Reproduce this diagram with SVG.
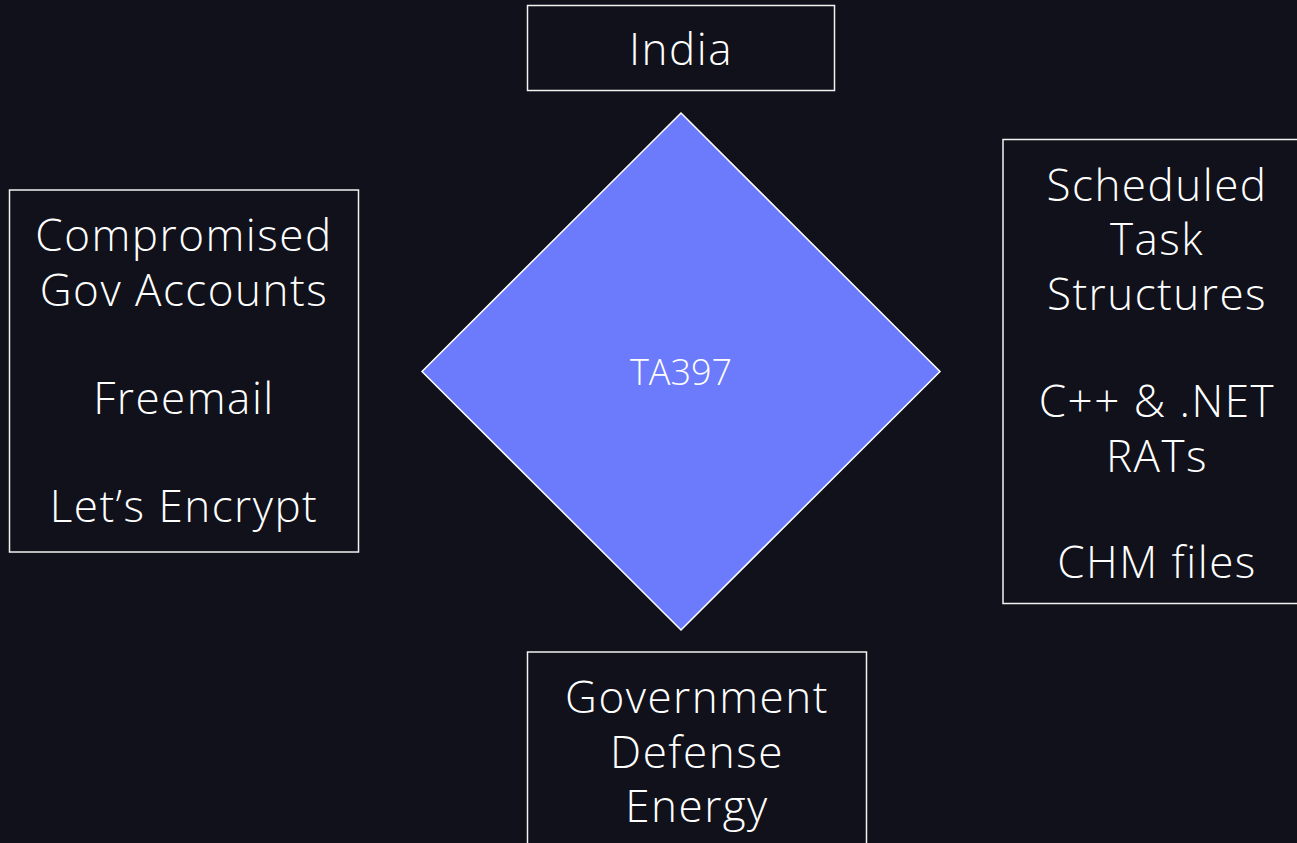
<svg xmlns="http://www.w3.org/2000/svg" width="1297" height="843" viewBox="0 0 1297 843">
  <style>
    .box { fill: #10111a; stroke: #f2f2f2; stroke-width: 1.5; }
    .diamond { fill: #6c7bfb; stroke: #ffffff; stroke-width: 1.5; }
    .lbl { font-family: "Open Sans", "Liberation Sans", sans-serif; font-weight: 300; font-size: 44px; fill: #ffffff; text-anchor: middle; letter-spacing: 1.5px; }
    .center { font-family: "Open Sans", "Liberation Sans", sans-serif; font-weight: 300; font-size: 36px; fill: #ffffff; text-anchor: middle; }
  </style>
  <rect x="0" y="0" width="1297" height="843" fill="#10111a"/>
  <g id="connectors"/>
  <g id="node-india">
    <rect class="box" x="527.5" y="5.5" width="307" height="85"/>
    <text class="lbl" x="681" y="65">India</text>
  </g>
  <g id="node-ta397">
    <polygon class="diamond" points="681,113 940,371.5 681,630 422,371.5"/>
    <text class="center" x="681" y="385">TA397</text>
  </g>
  <g id="node-infrastructure">
    <rect class="box" x="9.5" y="190" width="349" height="362"/>
    <text class="lbl" x="184" y="251">Compromised</text>
    <text class="lbl" x="184" y="306">Gov Accounts</text>
    <text class="lbl" x="184" y="414">Freemail</text>
    <text class="lbl" x="184" y="522">Let’s Encrypt</text>
  </g>
  <g id="node-capabilities">
    <rect class="box" x="1003" y="139.5" width="308" height="464"/>
    <text class="lbl" x="1157" y="201">Scheduled</text>
    <text class="lbl" x="1157" y="255">Task</text>
    <text class="lbl" x="1157" y="310">Structures</text>
    <text class="lbl" x="1157" y="417">C++ &amp; .NET</text>
    <text class="lbl" x="1157" y="472">RATs</text>
    <text class="lbl" x="1157" y="578">CHM files</text>
  </g>
  <g id="node-victims">
    <rect class="box" x="527.5" y="652" width="339" height="200"/>
    <text class="lbl" x="697" y="713">Government</text>
    <text class="lbl" x="697" y="768">Defense</text>
    <text class="lbl" x="697" y="822">Energy</text>
  </g>
</svg>
